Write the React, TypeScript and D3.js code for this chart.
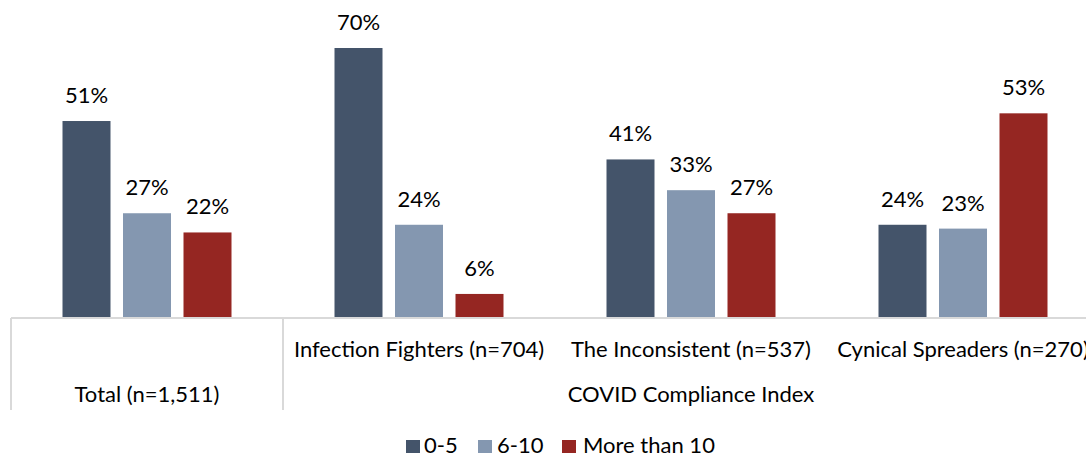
import React from "react";
import * as d3 from "d3";

const groups = ["Total (n=1,511)", "Infection Fighters (n=704)", "The Inconsistent (n=537)", "Cynical Spreaders (n=270)"];
const seriesNames = ["0-5", "6-10", "More than 10"];
const values0to5 = [51, 70, 41, 24];
const values6to10 = [27, 24, 33, 23];
const valuesMore10 = [22, 6, 27, 53];
const seriesValues = [values0to5, values6to10, valuesMore10];
const colors = ["#44546A", "#8497B0", "#952622"];
const superLabel = "COVID Compliance Index";

const W = 1086;
const H = 453;
const FONT = "Lato, 'Open Sans', sans-serif";
const FS = 22;

export default function App() {
  const baseY = 317;
  const x0 = d3.scaleBand<string>().domain(groups).range([11, 11 + 272 * 4]).padding(0);
  const gw = x0.bandwidth();
  const x1 = d3
    .scaleBand<string>()
    .domain(seriesNames)
    .range([gw / 2 - 90.75, gw / 2 + 90.75])
    .paddingInner(0.2066)
    .paddingOuter(0.1033);
  const y = d3.scaleLinear().domain([0, 70]).range([baseY, 48]);

  const legendItems = [
    { sq: 406, tx: 424 },
    { sq: 478, tx: 497 },
    { sq: 562, tx: 583 },
  ];

  return (
    <div style={{ position: "absolute", left: 0, top: 0 }}>
      <svg width={W} height={H} style={{ display: "block" }} fontFamily={FONT}>
        <rect x={0} y={0} width={W} height={H} fill="#fff" />
        {groups.map((g, gi) => (
          <g key={g} transform={`translate(${x0(g)},0)`}>
            {seriesNames.map((s, si) => {
              const v = seriesValues[si][gi];
              const bx = x1(s)!;
              return (
                <g key={s}>
                  <rect x={bx} y={y(v)} width={x1.bandwidth()} height={baseY - y(v)} fill={colors[si]} />
                  <text
                    x={bx + x1.bandwidth() / 2}
                    y={y(v) - 18}
                    textAnchor="middle"
                    fontSize={FS}
                    fill="#000"
                  >
                    {v}%
                  </text>
                </g>
              );
            })}
          </g>
        ))}
        {/* axis */}
        <line x1={11} x2={W} y1={318} y2={318} stroke="#d9d9d9" strokeWidth={2} />
        <line x1={11} x2={11} y1={318} y2={410} stroke="#d9d9d9" strokeWidth={2} />
        <line x1={x0(groups[1])!} x2={x0(groups[1])!} y1={318} y2={410} stroke="#d9d9d9" strokeWidth={2} />
        {groups.slice(1).map((g) => (
          <text key={g} x={x0(g)! + gw / 2} y={357} textAnchor="middle" fontSize={FS} fill="#000">
            {g}
          </text>
        ))}
        <text x={x0(groups[0])! + gw / 2} y={402} textAnchor="middle" fontSize={FS} fill="#000">
          {groups[0]}
        </text>
        <text x={x0(groups[2])! + gw / 2} y={402} textAnchor="middle" fontSize={FS} fill="#000">
          {superLabel}
        </text>
        {/* legend */}
        {seriesNames.map((s, i) => (
          <g key={s}>
            <rect x={legendItems[i].sq} y={440} width={14} height={14} fill={colors[i]} />
            <text x={legendItems[i].tx} y={453} fontSize={FS} fill="#000">
              {s}
            </text>
          </g>
        ))}
      </svg>
    </div>
  );
}
